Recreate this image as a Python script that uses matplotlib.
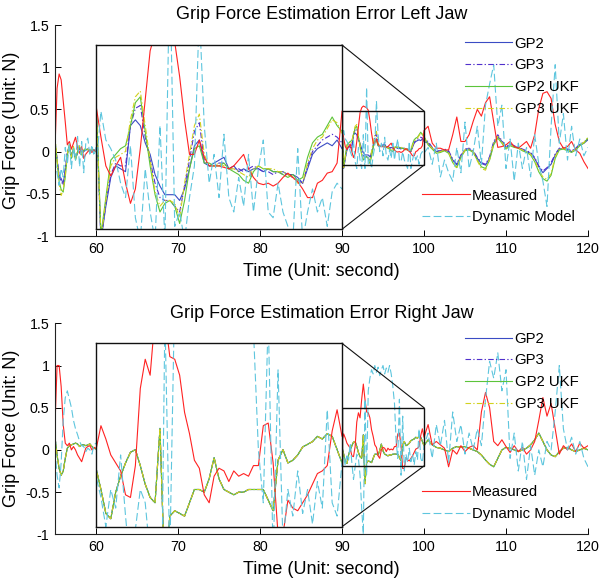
import numpy as np
import matplotlib
matplotlib.use('Agg')
import matplotlib.pyplot as plt
from matplotlib.patches import Rectangle

plt.rcParams['font.family'] = ['Liberation Sans', 'DejaVu Sans']

# sample times: 55-60 s, the magnified window 90-100 s, then 100-120 s
t_a = np.round(np.arange(55.0, 60.01, 0.25), 2)
t_b = np.round(np.arange(90.0, 100.01, 0.2), 2)
t_c = np.round(np.arange(100.5, 120.01, 0.5), 2)
t = np.concatenate([t_a, t_b, t_c])

labels = ['GP2', 'GP3', 'GP2 UKF', 'GP3 UKF', 'Measured', 'Dynamic Model']
colors = ['#3a4cc4', '#5030cc', '#5cc43a', '#d2d21e', '#ff2222', '#5ec6de']

xticks = [60, 70, 80, 90, 100, 110, 120]
yticks = [-1, -0.5, 0, 0.5, 1, 1.5]
ytick_labels = ['-1', '-0.5', '0', '0.5', '1', '1.5']

# ---------------- left jaw ----------------
gp2_left = [
    0.1, -0.1, -0.28, -0.32, -0.38, -0.22, -0.02, 0.05, -0.05, 0.02,
    -0.08, -0.02, 0.05, -0.02, 0.0, 0.02, 0.03, 0.01, 0.02, 0.02,
    0.0,
    0.29, -0.2, -0.08, 0.02, 0.06, 0.05, 0.04, 0.2, 0.22, 0.2,
    0.14, 0.1, 0.03, -0.01, -0.04, -0.04, -0.04, -0.06, -0.02, 0.05,
    0.13, 0.15, 0.07, 0.06, 0.07, 0.08, 0.09, 0.05, 0.06, 0.04,
    0.05, 0.04, 0.05, 0.05, 0.04, 0.05, 0.04, 0.04, 0.04, 0.03,
    0.03, 0.02, 0.0, 0.05, 0.1, 0.12, 0.13, 0.14, 0.13, 0.15,
    0.12,
    0.1, 0.04, 0.0, 0.0, 0.02, 0.0, -0.1, -0.16, -0.05, 0.02,
    0.03, 0.0, -0.08, -0.14, -0.16, -0.08, 0.1, 0.18, 0.12, 0.05,
    0.08, 0.06, 0.05, 0.02, 0.0, -0.02, -0.08, -0.18, -0.25, -0.2,
    -0.15, -0.04, 0.03, 0.04, 0.02, 0.0, 0.03, 0.08, 0.1, 0.14]
gp3_left = [
    0.12, -0.08, -0.3, -0.35, -0.4, -0.2, 0.0, 0.06, -0.04, 0.03,
    -0.06, 0.0, 0.04, -0.01, 0.01, 0.02, 0.03, 0.02, 0.02, 0.03,
    0.0,
    0.28, -0.2, -0.07, 0.03, 0.07, 0.06, 0.06, 0.2, 0.26, 0.27,
    0.16, 0.08, 0.0, -0.05, -0.06, -0.06, -0.08, -0.1, -0.01, 0.08,
    0.18, 0.21, 0.08, 0.06, 0.06, 0.07, 0.07, 0.05, 0.05, 0.05,
    0.04, 0.05, 0.06, 0.05, 0.04, 0.04, 0.03, 0.04, 0.03, 0.03,
    0.02, 0.01, 0.0, 0.06, 0.11, 0.13, 0.15, 0.16, 0.17, 0.16,
    0.14,
    0.12, 0.05, 0.01, 0.01, 0.03, 0.01, -0.09, -0.15, -0.04, 0.03,
    0.04, 0.01, -0.07, -0.13, -0.15, -0.06, 0.12, 0.2, 0.13, 0.06,
    0.09, 0.07, 0.05, 0.03, 0.01, -0.01, -0.07, -0.17, -0.23, -0.19,
    -0.13, -0.03, 0.04, 0.05, 0.03, 0.01, 0.04, 0.09, 0.11, 0.15]
gp2ukf_left = [
    0.15, -0.12, -0.35, -0.45, -0.48, -0.3, -0.05, 0.08, -0.08, 0.05,
    -0.1, 0.0, 0.06, -0.04, 0.02, 0.03, 0.02, 0.0, 0.03, 0.01,
    0.0,
    0.3, -0.18, -0.05, 0.08, 0.1, 0.12, 0.13, 0.2, 0.28, 0.3,
    0.18, 0.06, -0.04, -0.1, -0.07, -0.06, -0.08, -0.14, -0.06, 0.05,
    0.12, 0.13, 0.07, 0.07, 0.06, 0.06, 0.07, 0.05, 0.04, 0.03,
    0.01, 0.0, 0.04, 0.06, 0.05, 0.05, 0.04, 0.04, 0.03, 0.02,
    0.03, 0.01, 0.02, 0.09, 0.14, 0.16, 0.17, 0.2, 0.23, 0.2,
    0.18,
    0.08, 0.03, -0.02, -0.01, 0.01, -0.02, -0.13, -0.19, -0.07, 0.01,
    0.02, -0.01, -0.1, -0.18, -0.2, -0.1, 0.08, 0.16, 0.1, 0.03,
    0.07, 0.05, 0.04, 0.01, -0.01, -0.04, -0.12, -0.24, -0.32, -0.35,
    -0.28, -0.08, 0.02, 0.03, 0.01, -0.01, 0.02, 0.07, 0.1, 0.16]
gp3ukf_left = [
    0.18, -0.1, -0.38, -0.52, -0.45, -0.28, -0.03, 0.1, -0.06, 0.06,
    -0.09, 0.02, 0.07, -0.03, 0.02, 0.04, 0.03, 0.01, 0.03, 0.02,
    0.0,
    0.29, -0.19, -0.06, 0.06, 0.09, 0.1, 0.11, 0.22, 0.3, 0.32,
    0.2, 0.08, -0.03, -0.08, -0.06, -0.06, -0.07, -0.12, 0.0, 0.1,
    0.2, 0.24, 0.1, 0.06, 0.06, 0.07, 0.06, 0.05, 0.05, 0.04,
    0.03, 0.02, 0.05, 0.06, 0.05, 0.05, 0.05, 0.04, 0.04, 0.03,
    0.02, 0.0, 0.0, 0.07, 0.12, 0.15, 0.16, 0.19, 0.22, 0.21,
    0.17,
    0.09, 0.04, -0.01, 0.0, 0.02, -0.01, -0.12, -0.2, -0.06, 0.02,
    0.03, 0.0, -0.11, -0.2, -0.22, -0.09, 0.1, 0.18, 0.11, 0.04,
    0.08, 0.06, 0.04, 0.02, 0.0, -0.03, -0.1, -0.22, -0.3, -0.33,
    -0.26, -0.06, 0.03, 0.04, 0.02, 0.0, 0.03, 0.08, 0.11, 0.17]
measured_left = [
    0.05, 0.75, 0.92, 0.85, 0.6, 0.35, 0.08, 0.12, 0.03, 0.1,
    0.17, 0.05, -0.02, 0.06, -0.08, -0.03, 0.0, 0.02, -0.01, 0.02,
    0.0,
    0.27, 0.16, 0.06, 0.025, 0.06, 0.09, 0.0, -0.07, -0.02, 0.12,
    0.29, 0.46, 0.52, 0.54, 0.53, 0.52, 0.49, 0.37, 0.22, 0.1,
    0.1, 0.15, 0.09, 0.06, 0.06, 0.06, 0.055, 0.05, 0.06, 0.08,
    0.1, 0.05, 0.02, 0.0, -0.005, 0.0, -0.01, 0.0, 0.02, 0.035,
    0.02, 0.005, -0.02, -0.05, -0.05, 0.0, 0.01, 0.035, 0.04, 0.07,
    0.25,
    0.3, 0.1, 0.04, 0.04, 0.02, 0.02, 0.2, 0.41, 0.12, 0.12,
    0.2, 0.36, 0.5, 0.42, 0.58, 0.65, 0.35, 0.05, 0.06, 0.08,
    0.12, 0.06, 0.04, 0.08, 0.12, 0.04, 0.2, 0.51, 0.69, 0.71,
    0.63, 0.32, 0.12, 0.04, 0.06, 0.12, 0.02, -0.02, -0.12, -0.2]
dynamic_left = [
    -0.1, -0.25, -0.4, -0.2, -0.3, 0.05, -0.15, 0.1, -0.2, 0.05,
    -0.1, 0.18, -0.18, 0.12, -0.25, 0.1, 0.16, -0.05, 0.08, -0.05,
    0.05,
    0.05, 0.25, 0.15, 0.12, 0.08, 0.0, -0.05, 0.13, -0.12, -0.2,
    0.05, -0.1, -0.2, 0.2, -0.2, 0.76, -0.15, -0.1, -0.2, -0.05,
    0.06, 0.6, 0.2, 0.0, 0.1, -0.05, 0.17, -0.05, -0.1, 0.02,
    -0.08, 0.1, -0.1, 0.05, 0.15, -0.1, -0.12, 0.0, -0.1, -0.15,
    -0.2, 0.12, -0.2, -0.1, -0.02, -0.1, -0.05, -0.15, -0.03, 0.0,
    -0.02,
    0.05, -0.15, 0.1, -0.3, -0.1, -0.25, -0.35, 0.05, -0.25, 0.35,
    -0.2, 0.0, 0.3, -0.15, 0.55, 0.8, 1.03, 0.3, 0.55, -0.2,
    0.15, -0.35, 0.1, -0.2, 0.05, -0.3, 0.2, -0.15, -0.35, -0.65,
    0.3, 1.03, 0.1, 0.45, -0.1, 0.3, -0.05, 0.15, -0.05, 0.05]

# ---------------- right jaw ----------------
# the four GP estimates lie on top of each other in this panel
gp_right = [
    0.15, -0.06, -0.22, -0.3, -0.25, -0.1, 0.02, 0.05, 0.06, 0.07,
    0.08, 0.07, 0.04, 0.06, 0.06, 0.05, 0.06, 0.07, 0.04, 0.02,
    0.01,
    0.03, -0.05, -0.14, -0.16, -0.06, 0.0, 0.05, 0.09, 0.1, 0.04,
    -0.03, -0.08, -0.1, 0.18, -0.4, -0.15, -0.13, -0.14, -0.15, -0.1,
    -0.05, -0.05, -0.06, -0.01, 0.07, -0.01, -0.05, -0.06, -0.07, -0.06,
    -0.06, -0.05, -0.05, -0.05, -0.05, -0.09, -0.13, 0.06, 0.1, 0.05,
    0.06, 0.08, 0.11, 0.12, 0.13, 0.15, 0.14, 0.16, 0.15, 0.1,
    0.05,
    0.12, 0.06, 0.03, 0.02, 0.0, -0.02, 0.02, 0.04, 0.03, 0.04,
    0.02, 0.0, -0.02, -0.06, -0.12, -0.17, -0.2, -0.1, 0.0, 0.03,
    0.02, 0.0, -0.02, 0.0, 0.02, 0.06, 0.12, 0.2, 0.1, 0.0,
    -0.06, -0.08, -0.02, 0.02, 0.03, 0.0, -0.02, 0.0, 0.02, 0.0]
measured_right = [
    0.3, 1.0, 1.0, 0.75, 0.3, 0.08, 0.05, 0.08, 0.0, 0.04,
    0.0, -0.06, -0.1, -0.14, -0.06, 0.02, 0.04, 0.05, 0.0, 0.03,
    0.02,
    0.1, 0.19, 0.14, 0.08, 0.05, 0.02, -0.07, -0.08, 0.04, 0.33,
    0.44, 0.38, 0.6, 0.78, 0.6, 0.45, 0.44, 0.38, 0.24, 0.16,
    0.06, 0.03, -0.07, -0.1, 0.0, 0.03, 0.02, -0.02, 0.02, 0.0,
    0.01, 0.0, 0.04, 0.04, 0.19, 0.2, 0.05, -0.22, -0.22, -0.09,
    -0.12, -0.13, -0.1, -0.07, -0.03, 0.01, 0.02, 0.04, 0.17, 0.25,
    0.15,
    0.3, 0.06, 0.1, 0.06, 0.02, -0.2, 0.0, -0.05, 0.05, -0.02,
    0.03, 0.05, 0.0, 0.45, 0.68, 0.5, 0.1, 0.05, 0.12, 0.04,
    -0.03, 0.05, -0.02, 0.03, -0.05, 0.0, 0.1, 0.35, 0.62, 0.4,
    0.55, 0.25, -0.05, 0.05, 0.0, 0.07, -0.02, 0.08, 0.02, 0.05]
dynamic_right = [
    0.0, -0.3, -0.45, -0.15, 0.35, 0.62, 0.7, 0.6, 0.5, 0.35,
    0.25, 0.18, 0.1, 0.05, 0.04, -0.02, 0.02, 0.0, -0.05, 0.06,
    0.08,
    0.0, -0.08, -0.19, -0.05, -0.12, 0.08, -0.15, -0.35, -0.2, -0.05,
    -0.1, -0.3, -0.7, -1.0, 0.6, -0.3, 0.7, 0.85, 0.95, 0.9,
    1.0, 0.92, 0.98, 0.88, 0.95, 1.0, 0.9, 0.97, 0.92, 1.0,
    0.9, 0.75, 0.55, 0.1, -0.1, 0.6, -0.3, 0.4, -0.25, -0.05,
    -0.15, 0.02, -0.14, -0.05, -0.18, -0.02, -0.12, 0.25, -0.1, -0.15,
    0.05,
    0.2, -0.1, 0.3, 0.05, 0.35, -0.15, 0.45, 0.1, 0.3, -0.05,
    0.2, 0.0, 0.25, 0.05, 0.6, 1.05, 0.85, 1.15, 0.7, 0.95,
    -0.1, 0.2, -0.25, 0.1, -0.35, 0.05, -0.3, 0.0, -0.2, 0.1,
    0.0, 0.45, 1.0, 0.25, 0.0, 0.15, -0.05, 0.1, -0.1, -0.2]


def style(i):
    if i in (1, 3):
        return dict(ls='-.', dashes=(5, 2, 1.2, 2))
    if i == 5:
        return dict(ls='--', dashes=(7, 3))
    return dict(ls='-')


def draw_panel(ax, title, series, zoom_y, inset_y, leg_top, leg_bot):
    lines = []
    for i, y in enumerate(series):
        ln, = ax.plot(t, y, color=colors[i], lw=0.8, **style(i))
        lines.append(ln)
    ax.set_xlim(55, 120)
    ax.set_ylim(-1, 1.5)
    ax.set_xticks(xticks)
    ax.set_yticks(yticks)
    ax.set_yticklabels(ytick_labels)
    ax.tick_params(direction='in', length=4.5, width=0.7, labelsize=10.3, pad=4)
    for s in ['top', 'right']:
        ax.spines[s].set_visible(False)
    for s in ['left', 'bottom']:
        ax.spines[s].set_linewidth(0.8)
        ax.spines[s].set_color('#222222')
    ax.set_title(title, fontsize=13, pad=4)
    ax.set_xlabel('Time (Unit: second)', fontsize=13, labelpad=5)
    ax.set_ylabel('Grip Force (Unit: N)', fontsize=13, labelpad=4)

    # magnified view of 90-100 s
    axins = ax.inset_axes([60, inset_y[0], 30, inset_y[1] - inset_y[0]],
                          transform=ax.transData)
    for i, y in enumerate(series):
        axins.plot(t, y, color=colors[i], lw=0.8, **style(i))
    axins.set_xlim(90, 100)
    axins.set_ylim(zoom_y)
    axins.set_xticks([])
    axins.set_yticks([])
    for s in axins.spines.values():
        s.set_linewidth(1.0)
        s.set_color('#111111')

    ax.add_patch(Rectangle((90, zoom_y[0]), 10, zoom_y[1] - zoom_y[0],
                           fill=False, ec='#111111', lw=1.0, zorder=4))
    ax.plot([90, 100], [inset_y[1], zoom_y[1]], color='#111111', lw=0.8, zorder=4)
    ax.plot([90, 100], [inset_y[0], zoom_y[0]], color='#111111', lw=0.8, zorder=4)

    kw = dict(loc='upper left', frameon=False, fontsize=10.7, handlelength=3.2,
              handletextpad=0.15, labelspacing=0.52, borderpad=0, borderaxespad=0)
    leg1 = ax.legend(lines[:4], labels[:4], bbox_to_anchor=leg_top, **kw)
    ax.add_artist(leg1)
    ax.legend(lines[4:], labels[4:], bbox_to_anchor=leg_bot, **kw)


fig = plt.figure(figsize=(6, 5.79), dpi=100)
ax_left = fig.add_axes([0.0917, 0.5924, 0.8883, 0.3644])
ax_right = fig.add_axes([0.0917, 0.0772, 0.8883, 0.3644])

draw_panel(ax_left, 'Grip Force Estimation Error Left Jaw',
           [gp2_left, gp3_left, gp2ukf_left, gp3ukf_left, measured_left, dynamic_left],
           (-0.16, 0.48), (-0.92, 1.263), (0.769, 0.945), (0.689, 0.225))
draw_panel(ax_right, 'Grip Force Estimation Error Right Jaw',
           [gp_right, gp_right, gp_right, gp_right, measured_right, dynamic_right],
           (-0.19, 0.5), (-0.91, 1.263), (0.769, 0.96), (0.689, 0.232))

fig.savefig('out.png', dpi=100)
